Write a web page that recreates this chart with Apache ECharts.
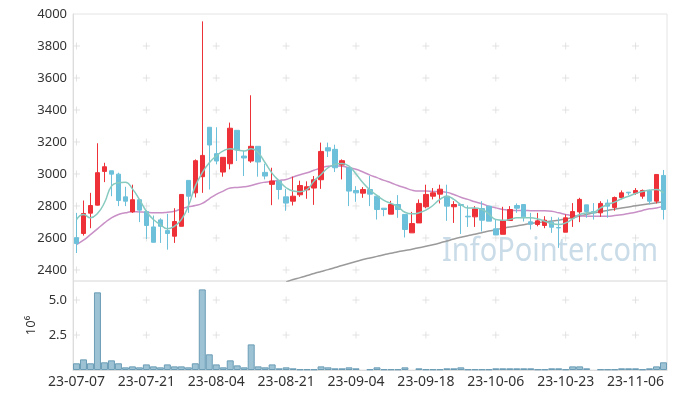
<!DOCTYPE html>
<html><head><meta charset="utf-8">
<script src="https://cdn.jsdelivr.net/npm/echarts@6/dist/echarts.min.js"></script>
<style>html,body{margin:0;padding:0;background:#fff}#c{width:677px;height:399px}</style>
</head><body><div id="c"></div>
<script>
const dates = ['23-07-07','23-07-10','23-07-11','23-07-12','23-07-13','23-07-14','23-07-17','23-07-18','23-07-19','23-07-20',
'23-07-21','23-07-24','23-07-25','23-07-26','23-07-27','23-07-28','23-07-31','23-08-01','23-08-02','23-08-03',
'23-08-04','23-08-07','23-08-08','23-08-09','23-08-10','23-08-11','23-08-14','23-08-16','23-08-17','23-08-18',
'23-08-21','23-08-22','23-08-23','23-08-24','23-08-25','23-08-28','23-08-29','23-08-30','23-08-31','23-09-01',
'23-09-04','23-09-05','23-09-06','23-09-07','23-09-08','23-09-11','23-09-12','23-09-13','23-09-14','23-09-15',
'23-09-18','23-09-19','23-09-20','23-09-21','23-09-22','23-09-25','23-09-26','23-09-27','23-10-04','23-10-05',
'23-10-06','23-10-10','23-10-11','23-10-12','23-10-13','23-10-16','23-10-17','23-10-18','23-10-19','23-10-20',
'23-10-23','23-10-24','23-10-25','23-10-26','23-10-27','23-10-30','23-10-31','23-11-01','23-11-02','23-11-03',
'23-11-06','23-11-07','23-11-08','23-11-09','23-11-10'];

const opens = [2602,2628,2755,2805,3016,3020,2999,2857,2763,2839,
2765,2669,2713,2646,2611,2673,2960,2882,2983,3292,
3127,3012,3064,3273,3112,3081,3173,3010,2935,2956,
2857,2830,2870,2901,2912,2964,3164,3154,3056,3039,
2897,2880,2903,2861,2786,2749,2809,2747,2632,2694,
2795,2861,2874,2861,2795,2809,2736,2732,2784,2799,
2657,2623,2709,2803,2809,2701,2684,2678,2699,2665,
2636,2726,2763,2807,2765,2757,2818,2791,2853,2886,
2880,2861,2897,2830,2991];
const closes = [2565,2753,2803,3008,3045,2999,2834,2830,2839,2774,
2678,2573,2673,2628,2703,2872,2861,3083,3116,3181,
3081,3104,3286,3150,3100,3173,3075,2987,2956,2903,
2818,2861,2928,2920,2964,3141,3144,3039,3083,2893,
2882,2903,2874,2778,2778,2809,2778,2653,2690,2816,
2872,2882,2905,2799,2809,2803,2732,2782,2711,2705,
2619,2709,2778,2786,2732,2686,2707,2711,2667,2663,
2726,2765,2841,2765,2757,2816,2799,2853,2882,2882,
2897,2897,2830,2997,2778];
const lows = [2506,2615,2661,2803,2949,2861,2799,2799,2757,2699,
2594,2573,2569,2527,2569,2673,2757,2853,2882,2903,
3060,2983,3029,3081,2987,3070,2983,2966,2805,2841,
2770,2803,2857,2845,2807,2907,3106,3012,2966,2799,
2826,2851,2799,2715,2736,2749,2726,2603,2632,2694,
2786,2841,2816,2707,2694,2625,2669,2669,2640,2705,
2619,2623,2709,2757,2703,2653,2673,2661,2632,2538,
2636,2669,2699,2726,2715,2732,2726,2770,2841,2868,
2870,2845,2809,2816,2715];
const highs = [2757,2834,2882,3192,3070,3020,3008,2920,2933,2839,
2774,2740,2723,2751,2786,2872,2960,3091,3954,3292,
3292,3104,3321,3273,3144,3492,3173,3064,3039,2956,
2907,2983,2958,2954,2987,3196,3196,3183,3091,3039,
2924,2918,2987,2861,2786,2832,2868,2747,2763,2841,
2933,2912,2933,2933,2830,2809,2803,2799,2830,2799,
2715,2795,2799,2816,2809,2757,2757,2736,2732,2728,
2747,2818,2851,2807,2818,2830,2841,2859,2897,2886,
2912,2903,2903,2997,3025];

const ma5 = [2715,2747,2726,2753,2820,2924,2945,2949,2907,2841,
2767,2715,2684,2657,2673,2715,2799,2924,3008,3070,
3112,3144,3158,3150,3144,3158,3133,3070,3004,2956,
2914,2893,2889,2903,2956,2997,3039,3060,3066,3049,
3000,2945,2900,2866,2835,2816,2795,2761,2751,2757,
2774,2803,2841,2861,2841,2809,2788,2788,2778,2751,
2715,2711,2715,2726,2726,2726,2719,2705,2690,2684,
2694,2719,2747,2757,2761,2788,2809,2824,2845,2861,
2878,2891,2899,2903,2882];
const ma20 = [2559,2586,2621,2657,2694,2726,2747,2757,2765,2763,
2761,2757,2757,2761,2767,2782,2795,2803,2816,2845,
2872,2893,2912,2916,2920,2928,2941,2949,2954,2960,
2966,2981,2995,3008,3023,3037,3049,3051,3049,3039,
3029,3012,2993,2977,2960,2945,2928,2914,2899,2893,
2893,2891,2889,2885,2872,2855,2841,2826,2814,2799,
2788,2778,2774,2772,2772,2770,2770,2770,2767,2757,
2747,2740,2738,2736,2736,2736,2736,2740,2745,2753,
2761,2772,2782,2788,2799];
const ma120 = [null,null,null,null,null,null,null,null,null,null,
null,null,null,null,null,null,null,null,null,null,
null,null,null,null,null,null,null,null,null,null,
2325,2340,2352,2365,2378,2390,2402,2415,2428,2440,
2453,2465,2475,2485,2495,2504,2514,2522,2530,2539,
2548,2558,2569,2581,2593,2604,2614,2623,2633,2643,
2652,2660,2668,2675,2683,2690,2696,2701,2706,2711,
2718,2727,2737,2747,2757,2765,2772,2780,2787,2794,
2801,2807,2814,2820,2826];
const volumes = [0.48,0.76,0.48,5.55,0.55,0.69,0.48,0.19,0.26,0.19,
0.40,0.26,0.19,0.40,0.26,0.26,0.19,0.48,5.76,1.12,
0.40,0.19,0.69,0.33,0.19,1.83,0.26,0.19,0.40,0.12,
0.19,0.12,0.05,0.05,0.05,0.26,0.19,0.12,0.12,0.19,
0.12,'-',0.05,0.19,0.05,0.05,0.05,0.19,'-',0.12,
0.05,0.05,0.05,0.12,0.12,0.19,0.05,0.05,0.05,0.05,
0.12,0.12,0.12,0.12,0.12,0.12,0.05,0.05,0.12,0.12,
0.05,0.26,0.26,0.12,'-',0.05,0.05,0.05,0.12,0.12,
0.12,0.05,0.12,0.26,0.55];

const crossCols = [0,10,20,30,40,50,60,70,80];
const priceTicks = [2400,2600,2800,3000,3200,3400,3600,3800];
const volTicks = [2.5,5.0];

const candles = dates.map((d,i)=>[opens[i],closes[i],lows[i],highs[i]]);
const crossPrice = [], crossVol = [];
crossCols.forEach(c=>{priceTicks.forEach(v=>crossPrice.push([c,v])); volTicks.forEach(v=>crossVol.push([c,v]));});

const FONT = 'Noto Sans';
const plus = 'path://M0,4L8,4M4,0L4,8';
const crossStyle = {color:'transparent', borderColor:'#dcdcdc', borderWidth:1};

const chart = echarts.init(document.getElementById('c'), null, {renderer:'canvas'});
chart.setOption({
  animation:false,
  backgroundColor:'#fff',
  grid:[
    {left:73, right:10, top:14, height:267, show:true, borderColor:'#e4e4e4', borderWidth:1},
    {left:73, right:10, top:281, height:89, show:true, borderColor:'#e4e4e4', borderWidth:1}
  ],
  graphic:[{
    type:'text', left:442, top:236, z:0, scaleX:0.905,
    style:{text:'InfoPointer.com', font:'32px "Noto Sans"', fill:'#c9dce8'}
  }],
  xAxis:[
    {type:'category', gridIndex:0, data:dates, boundaryGap:true,
     axisLine:{show:false}, axisTick:{show:false}, axisLabel:{show:false}, splitLine:{show:false}},
    {type:'category', gridIndex:1, data:dates, boundaryGap:true,
     axisLine:{show:true, lineStyle:{color:'#dddddd'}}, axisTick:{show:false},
     axisLabel:{interval:9, color:'#333', fontFamily:FONT, fontSize:14, margin:5},
     splitLine:{show:false}}
  ],
  yAxis:[
    {type:'value', gridIndex:0, min:2331, max:4000, splitNumber:8, scale:true,
     axisLine:{show:true, lineStyle:{color:'#dddddd'}}, axisTick:{show:false},
     axisLabel:{color:'#333', fontFamily:FONT, fontSize:13, margin:6, showMinLabel:false,
       formatter:v=>String(Math.round(v))},
     splitLine:{show:false}},
    {type:'value', gridIndex:1, min:0, max:6.36, interval:2.5,
     name:'10\u2076', nameLocation:'middle', nameGap:35, nameRotate:90,
     nameTextStyle:{color:'#333', fontFamily:FONT, fontSize:13},
     axisLine:{show:true, lineStyle:{color:'#dddddd'}}, axisTick:{show:false},
     axisLabel:{color:'#333', fontFamily:FONT, fontSize:13, margin:6, showMinLabel:false, showMaxLabel:false,
       formatter:v=>v.toFixed(1)},
     splitLine:{show:false}}
  ],
  series:[
    {type:'scatter', xAxisIndex:0, yAxisIndex:0, data:crossPrice, symbol:plus, symbolSize:7,
     itemStyle:crossStyle, silent:true, z:1},
    {type:'scatter', xAxisIndex:1, yAxisIndex:1, data:crossVol, symbol:plus, symbolSize:7,
     itemStyle:crossStyle, silent:true, z:1},
    {type:'line', xAxisIndex:0, yAxisIndex:0, data:ma120, symbol:'none', smooth:true,
     lineStyle:{color:'#9a9a9a', width:1.5}, z:3, silent:true},
    {type:'line', xAxisIndex:0, yAxisIndex:0, data:ma20, symbol:'none', smooth:true,
     lineStyle:{color:'#c890c6', width:1.5}, z:3, silent:true},
    {type:'candlestick', xAxisIndex:0, yAxisIndex:0, data:candles, barWidth:5,
     itemStyle:{color:'#ee3138', color0:'#6dc0d9', borderColor:'#ee3138', borderColor0:'#6dc0d9', borderWidth:1},
     z:4, silent:true},
    {type:'line', xAxisIndex:0, yAxisIndex:0, data:ma5, symbol:'none', smooth:true,
     lineStyle:{color:'#86cac0', width:1.5}, z:5, silent:true},
    {type:'bar', xAxisIndex:1, yAxisIndex:1, data:volumes, barWidth:'100%',
     itemStyle:{color:'#9cc2d4', borderColor:'#6b9db6', borderWidth:1}, silent:true, z:3}
  ]
});
</script>
</body></html>
